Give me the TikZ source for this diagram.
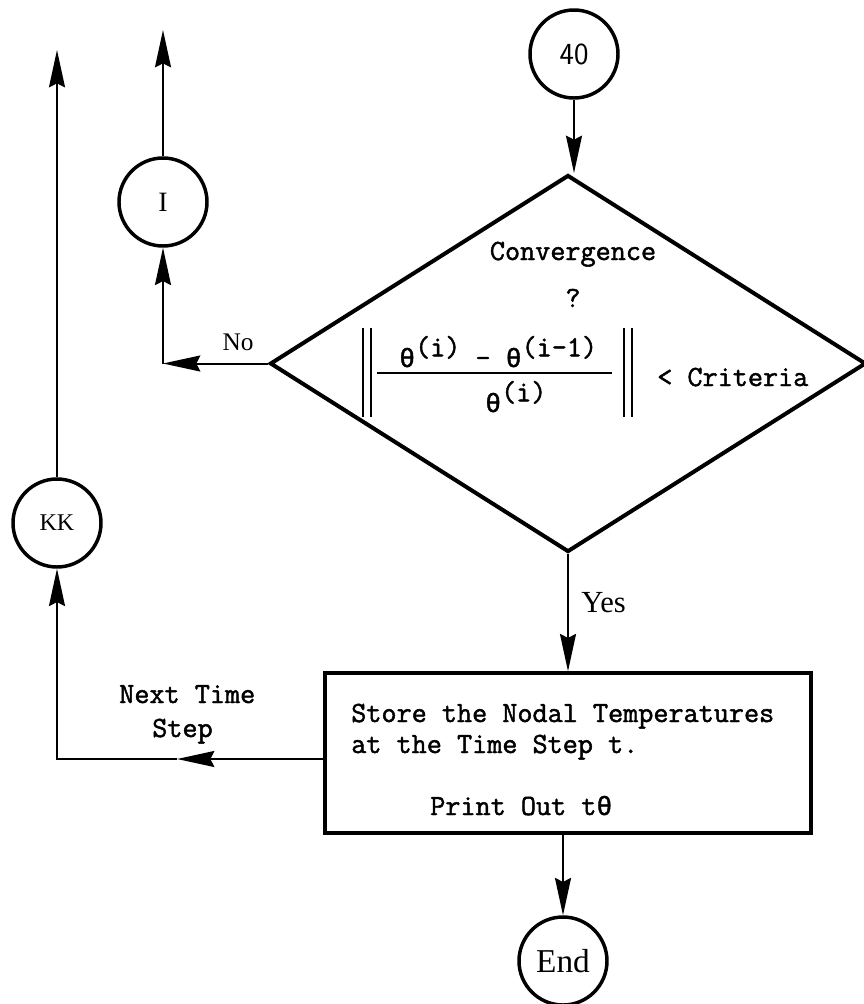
\documentclass[tikz,border=0pt]{standalone}
\usepackage{fontspec}
\newfontfamily\thetafont[Scale=0.9,FakeBold=1.6]{Liberation Mono}
\newfontfamily\twfont[FakeBold=1.6]{Latin Modern Mono}
\newfontfamily\labelfont{Liberation Serif}
\usetikzlibrary{arrows.meta,shapes.geometric}
\begin{document}
\begin{tikzpicture}[x=0.75pt,y=-0.75pt,
  conn/.style={line width=1.5pt},
  arr/.style={conn,-{Stealth[length=28pt,width=12pt,inset=3pt]}},
  conncircle/.style={circle,draw,line width=2.6pt,minimum size=66pt,inner sep=0},
  tt/.style={font=\twfont\fontsize{22}{26}\selectfont,inner sep=0},
  lbl/.style={inner sep=0},
  bar/.style={line width=1.5pt}]
\useasboundingbox (0,0) rectangle (864,1004);

% nodes
\node[conncircle,font=\sffamily\fontsize{23}{27}\selectfont] (c40) at (574,54) {40};
\node[diamond,draw,line width=3pt,minimum width=447pt,minimum height=282.75pt,inner sep=0] (dia) at (568,363.5) {};
\node[draw,line width=2.6pt,minimum width=364.5pt,minimum height=120pt,inner sep=0] (box) at (568,753) {};
\node[conncircle,font=\labelfont\fontsize{21}{24}\selectfont] (i) at (163,202) {I};
\node[conncircle,font=\labelfont\fontsize{18}{20}\selectfont] (kk) at (57,523) {KK};
\node[conncircle,font=\labelfont\fontsize{25}{28}\selectfont] (endc) at (563,961) {End};

% decision text
\node[tt,anchor=base] (conv) at (573,260) {Convergence};
\node[tt,anchor=base] (qm) at (573,307) {?};
\node[tt,anchor=base west] (num) at (399,367) {{\thetafont θ}\raisebox{8pt}{(i)} - {\thetafont θ}\raisebox{8pt}{(i-1)}};
\node[tt,anchor=base west] (den) at (485,412) {{\thetafont θ}\raisebox{8pt}{(i)}};
\node[tt,anchor=base west] (crit) at (657,386) {< Criteria};
\draw[bar] (363,328) -- (363,417) (371,328) -- (371,417)
           (624,328) -- (624,417) (632,328) -- (632,417);
\draw[line width=2pt] (377,373) -- (612,373);

% box text
\node[tt,anchor=base west] (l1) at (351,722) {Store the Nodal Temperatures};
\node[tt,anchor=base west] (l2) at (351,753) {at the Time Step t.};
\node[tt,anchor=base west] (l3) at (430,815) {Print Out t{\thetafont θ}};

% labels
\node[lbl,font=\labelfont\fontsize{19}{22}\selectfont] (no) at (238,342) {No};
\node[lbl,font=\labelfont\fontsize{23}{26}\selectfont,anchor=west] (yes) at (581,603) {Yes};
\node[tt,anchor=base west] (nt1) at (119,703) {Next Time};
\node[tt,anchor=base west] (nt2) at (152,737) {Step};

% coordinates
\coordinate (nocorner) at (i |- dia.west);
\coordinate (itop) at (163,30);
\coordinate (kktop) at (57,50);
\coordinate (kkcorner) at (57,759);
\coordinate (boxmid) at (177,759);

% connectors
\draw[arr] (c40.south) -- (c40.south |- dia.north);
\draw[arr] (dia.west) -- (nocorner);
\draw[arr] (nocorner) -- (i.south);
\draw[arr] (i.north) -- (itop);
\draw[arr] (kk.north) -- (kktop);
\draw[arr] (dia.south) -- (dia.south |- box.north);
\draw[arr] (kkcorner -| box.west) -- (boxmid);
\draw[arr] (boxmid) -- (kkcorner) -- (kk.south);
\draw[arr] (box.south -| endc) -- (endc.north);
\end{tikzpicture}
\end{document}
